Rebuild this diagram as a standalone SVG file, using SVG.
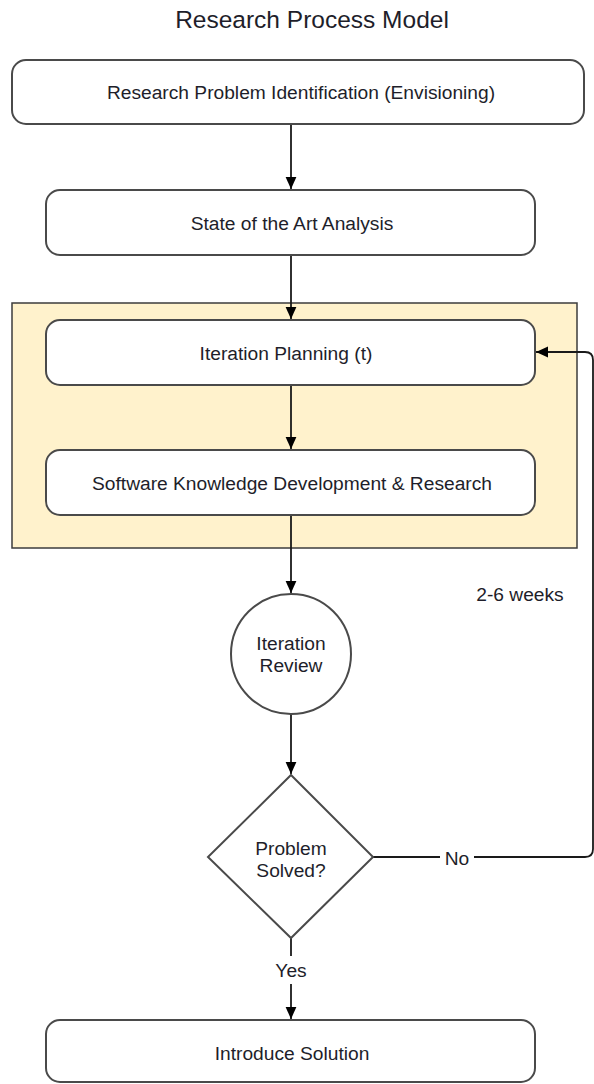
<svg xmlns="http://www.w3.org/2000/svg" width="594" height="1084" viewBox="0 0 594 1084">
  <style>
    text { font-family: "Liberation Sans", Arial, sans-serif; fill: #1e1e2a; }
    .lbl { font-size: 19.2px; text-anchor: middle; }
    .title { font-size: 24.5px; text-anchor: middle; }
    .box { fill: #ffffff; stroke: #4a4a4a; stroke-width: 2; }
    .frame { fill: #fff2cc; stroke: #3c3c3c; stroke-width: 1.5; }
    .edge { fill: none; stroke: #1a1a1a; stroke-width: 1.8; }
  </style>
  <defs>
    <marker id="arrow" viewBox="0 0 10 10" refX="10" refY="5" markerWidth="12" markerHeight="12" markerUnits="userSpaceOnUse" orient="auto">
      <path d="M0,0.5 L10,5 L0,9.5 z" fill="#000"/>
    </marker>
  </defs>
  <rect width="594" height="1084" fill="#ffffff"/>

  <text class="title" x="312" y="28">Research Process Model</text>

  <g id="iteration-frame">
    <rect class="frame" x="12" y="303" width="565" height="245"/>
  </g>

  <g id="connectors">
    <line class="edge" x1="291" y1="124" x2="291" y2="189" marker-end="url(#arrow)"/>
    <line class="edge" x1="291" y1="255" x2="291" y2="319" marker-end="url(#arrow)"/>
    <line class="edge" x1="291" y1="385" x2="291" y2="449" marker-end="url(#arrow)"/>
    <line class="edge" x1="291" y1="515" x2="291" y2="593" marker-end="url(#arrow)"/>
    <line class="edge" x1="291" y1="714" x2="291" y2="774" marker-end="url(#arrow)"/>
    <line class="edge" x1="291" y1="938" x2="291" y2="956"/>
    <line class="edge" x1="291" y1="984" x2="291" y2="1019" marker-end="url(#arrow)"/>
    <path class="edge" d="M373,857 H440 M474,857 H585 Q593,857 593,849 V360 Q593,352 585,352 H536" marker-end="url(#arrow)"/>
  </g>

  <g id="problem-identification">
    <rect class="box" x="12" y="60" width="572" height="64" rx="14"/>
    <text class="lbl" x="301" y="99">Research Problem Identification (Envisioning)</text>
  </g>

  <g id="state-of-the-art">
    <rect class="box" x="46" y="190" width="489" height="65" rx="14"/>
    <text class="lbl" x="292" y="229.5">State of the Art Analysis</text>
  </g>

  <g id="iteration-planning">
    <rect class="box" x="46" y="320" width="489" height="65" rx="14"/>
    <text class="lbl" x="286" y="359.5">Iteration Planning (t)</text>
  </g>

  <g id="knowledge-development">
    <rect class="box" x="46" y="450" width="489" height="65" rx="14"/>
    <text class="lbl" x="292" y="489.5">Software Knowledge Development &amp; Research</text>
  </g>

  <g id="iteration-review">
    <circle class="box" cx="291" cy="654" r="60"/>
    <text class="lbl" x="291" y="650">Iteration</text>
    <text class="lbl" x="291" y="672">Review</text>
  </g>

  <g id="problem-solved">
    <polygon class="box" points="291,775 373,857 291,938 208,857"/>
    <text class="lbl" x="291" y="855">Problem</text>
    <text class="lbl" x="291" y="877">Solved?</text>
  </g>

  <g id="introduce-solution">
    <rect class="box" x="46" y="1020" width="489" height="62" rx="14"/>
    <text class="lbl" x="292" y="1060">Introduce Solution</text>
  </g>

  <g id="edge-labels">
    <text class="lbl" x="457" y="865">No</text>
    <text class="lbl" x="291" y="977">Yes</text>
    <text class="lbl" x="520" y="601">2-6 weeks</text>
  </g>
</svg>
